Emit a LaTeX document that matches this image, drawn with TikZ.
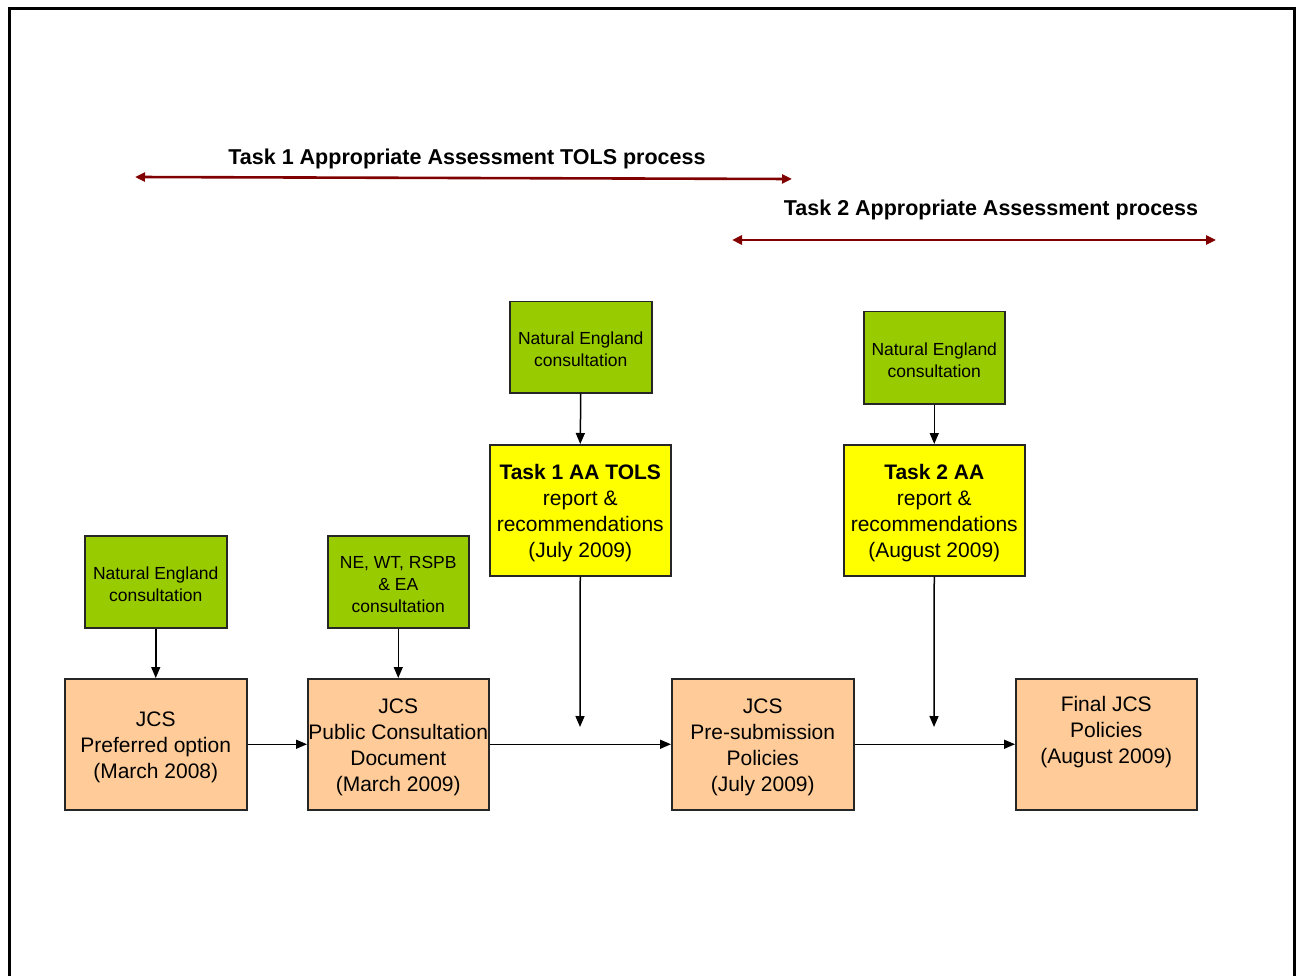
\documentclass[tikz,border=0pt]{standalone}
\usepackage{fontspec}
\setmainfont{Liberation Sans}
\usetikzlibrary{arrows.meta}
\definecolor{negreen}{HTML}{99CC00}
\definecolor{aayellow}{HTML}{FFFF00}
\definecolor{jcsorange}{HTML}{FFCC99}
\definecolor{spanred}{HTML}{800000}
\newcommand\tgap[1]{\rule{0pt}{#1}}
\begin{document}
\begin{tikzpicture}[x=1pt,y=-1pt,
  box/.style={draw=black!85,line width=1.5pt,inner sep=0pt,align=center,anchor=north west},
  greenbox/.style={box,fill=negreen,font=\fontsize{17.5}{22}\selectfont},
  yellowbox/.style={box,fill=aayellow,font=\fontsize{21}{26}\selectfont},
  orangebox/.style={box,fill=jcsorange,font=\fontsize{21}{26}\selectfont},
  flow/.style={draw=black,line width=1.5pt,-{Triangle[length=11pt,width=9pt]}},
  span/.style={draw=spanred,line width=2.6pt,{Triangle[length=10pt,width=9pt]}-{Triangle[length=10pt,width=9pt]}},
  title/.style={font=\fontsize{21.5}{26}\selectfont\bfseries,inner sep=0pt}]
\useasboundingbox (0,0) rectangle (1301,976);
\draw[line width=3pt] (9,980) -- (9,9) -- (1294,9) -- (1294,980);

% spans
\node[title] (t1) at (467,159) {Task 1 Appropriate Assessment TOLS process};
\coordinate (t1l) at (135,177);
\coordinate (t1r) at (792,179);
\draw[span] (t1l) -- (t1r);
\node[title] (t2) at (991,210) {Task 2 Appropriate Assessment process};
\coordinate (t2l) at (732,240);
\coordinate (t2r) at (1216,240);
\draw[span] (t2l) -- (t2r);

% green boxes
\node[greenbox,minimum width=142pt,minimum height=92pt] (ne1) at (84,535) {\tgap{17pt}Natural England\\consultation};
\node[greenbox,minimum width=141pt,minimum height=92pt] (ne2) at (327,535) {\tgap{17pt}NE, WT, RSPB\\\& EA\\consultation};
\node[greenbox,minimum width=142pt,minimum height=91pt] (ne3) at (509,301) {\tgap{17pt}Natural England\\consultation};
\node[greenbox,minimum width=141pt,minimum height=92pt] (ne4) at (863,311) {\tgap{17pt}Natural England\\consultation};

% yellow boxes
\node[yellowbox,minimum width=181pt,minimum height=131pt] (aa1) at (489,444) {\tgap{21.5pt}\textbf{Task 1 AA TOLS}\\report \&\\recommendations\\(July 2009)};
\node[yellowbox,minimum width=181pt,minimum height=131pt] (aa2) at (843,444) {\tgap{21.5pt}\textbf{Task 2 AA}\\report \&\\recommendations\\(August 2009)};

% orange boxes
\node[orangebox,minimum width=182pt,minimum height=131pt] (j1) at (64,678) {\tgap{20.5pt}JCS\\Preferred option\\(March 2008)};
\node[orangebox,minimum width=181pt,minimum height=131pt] (j2) at (307,678) {\tgap{20.5pt}JCS\\Public Consultation\\Document\\(March 2009)};
\node[orangebox,minimum width=182pt,minimum height=131pt] (j3) at (671,678) {\tgap{20.5pt}JCS\\Pre-submission\\Policies\\(July 2009)};
\node[orangebox,minimum width=181pt,minimum height=131pt] (j4) at (1015,678) {\tgap{20.5pt}Final JCS\\Policies\\(August 2009)\\\strut};

% connectors
\draw[flow] (ne1.south) -- (j1.north);
\draw[flow] (ne2.south) -- (j2.north);
\draw[flow] (ne3.south) -- (aa1.north);
\draw[flow] (ne4.south) -- (aa2.north);
\coordinate (e1) at (580,727);
\coordinate (e2) at (934,727);
\draw[flow] (aa1.south) -- (e1);
\draw[flow] (aa2.south) -- (e2);
\draw[flow] (j1.east) -- (j2.west);
\draw[flow] (j2.east) -- (j3.west);
\draw[flow] (j3.east) -- (j4.west);
\end{tikzpicture}
\end{document}
